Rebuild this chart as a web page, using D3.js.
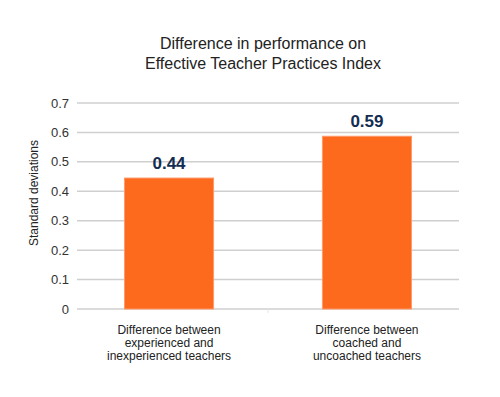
<!DOCTYPE html>
<meta charset="utf-8" />
<style>
  body { margin: 0; background: white; }
  text { font-family: "Liberation Sans", Arial, sans-serif; fill: #222; }
</style>
<body>
  <svg id="chart" width="500" height="397"></svg>
</body>
<script src="https://d3js.org/d3.v7.min.js"></script>
<script>
  // chart data
  const categories = [
    ["Difference between", "experienced and", "inexperienced teachers"],
    ["Difference between", "coached and", "uncoached teachers"]
  ];
  const values = [0.445, 0.587];
  const valueLabels = ["0.44", "0.59"];
  const yTicks = [0, 0.1, 0.2, 0.3, 0.4, 0.5, 0.6, 0.7];
  const yTickLabels = ["0", "0.1", "0.2", "0.3", "0.4", "0.5", "0.6", "0.7"];
  const titleLines = ["Difference in performance on", "Effective Teacher Practices Index"];

  const svg = d3.select("#chart");
  const margin = { top: 103, right: 41, bottom: 88, left: 77 };
  const width = svg.attr("width") - margin.left - margin.right;
  const height = svg.attr("height") - margin.top - margin.bottom;

  const g = svg.append("g")
    .attr("transform", "translate(" + margin.left + "," + margin.top + ")");

  const x = d3.scaleBand()
    .domain(d3.range(categories.length))
    .range([0, width])
    .paddingInner(0.55)
    .paddingOuter(0.24);

  const y = d3.scaleLinear().domain([0, 0.7]).range([height, 0]);

  // gridlines
  g.selectAll(".grid")
    .data(yTicks)
    .enter()
    .append("line")
    .attr("x1", 0)
    .attr("x2", width)
    .attr("y1", d => y(d))
    .attr("y2", d => y(d))
    .attr("stroke", "#cfcfcf")
    .attr("stroke-width", 1.5);

  // y tick labels
  g.selectAll(".ytick")
    .data(yTicks)
    .enter()
    .append("text")
    .attr("x", -8)
    .attr("y", d => y(d))
    .attr("dy", "0.35em")
    .attr("text-anchor", "end")
    .style("font-size", "13px")
    .style("fill", "#333")
    .text((d, i) => yTickLabels[i]);

  // small tick between categories
  g.append("line")
    .attr("x1", width / 2)
    .attr("x2", width / 2)
    .attr("y1", height)
    .attr("y2", height + 4)
    .attr("stroke", "#e4e4e4");

  // bars
  g.selectAll(".bar")
    .data(values)
    .enter()
    .append("rect")
    .attr("x", (d, i) => x(i))
    .attr("width", x.bandwidth())
    .attr("y", d => y(d))
    .attr("height", d => height - y(d))
    .attr("fill", "#fd691d")
    .attr("stroke", "#ff9a6a")
    .attr("stroke-width", 1);

  // value labels
  g.selectAll(".val")
    .data(values)
    .enter()
    .append("text")
    .attr("x", (d, i) => x(i) + x.bandwidth() / 2)
    .attr("y", d => y(d) - 9)
    .attr("text-anchor", "middle")
    .style("font-size", "17px")
    .style("font-weight", "bold")
    .style("fill", "#132d52")
    .text((d, i) => valueLabels[i]);

  // category labels
  const cat = g.selectAll(".cat")
    .data(categories)
    .enter()
    .append("text")
    .attr("text-anchor", "middle")
    .attr("transform", (d, i) => "translate(" + (x(i) + x.bandwidth() / 2) + "," + (height + 25) + ")")
    .style("font-size", "12px");
  cat.selectAll("tspan")
    .data(d => d)
    .enter()
    .append("tspan")
    .attr("x", 0)
    .attr("dy", (d, i) => i === 0 ? 0 : 13)
    .text(d => d);

  // y axis title
  svg.append("text")
    .attr("transform", "translate(38,193) rotate(-90)")
    .attr("text-anchor", "middle")
    .style("font-size", "12px")
    .text("Standard deviations");

  // chart title
  svg.append("text")
    .attr("text-anchor", "middle")
    .attr("transform", "translate(263,49)")
    .style("font-size", "16px")
    .selectAll("tspan")
    .data(titleLines)
    .enter()
    .append("tspan")
    .attr("x", 0)
    .attr("dy", (d, i) => i === 0 ? 0 : 20)
    .text(d => d);
</script>
